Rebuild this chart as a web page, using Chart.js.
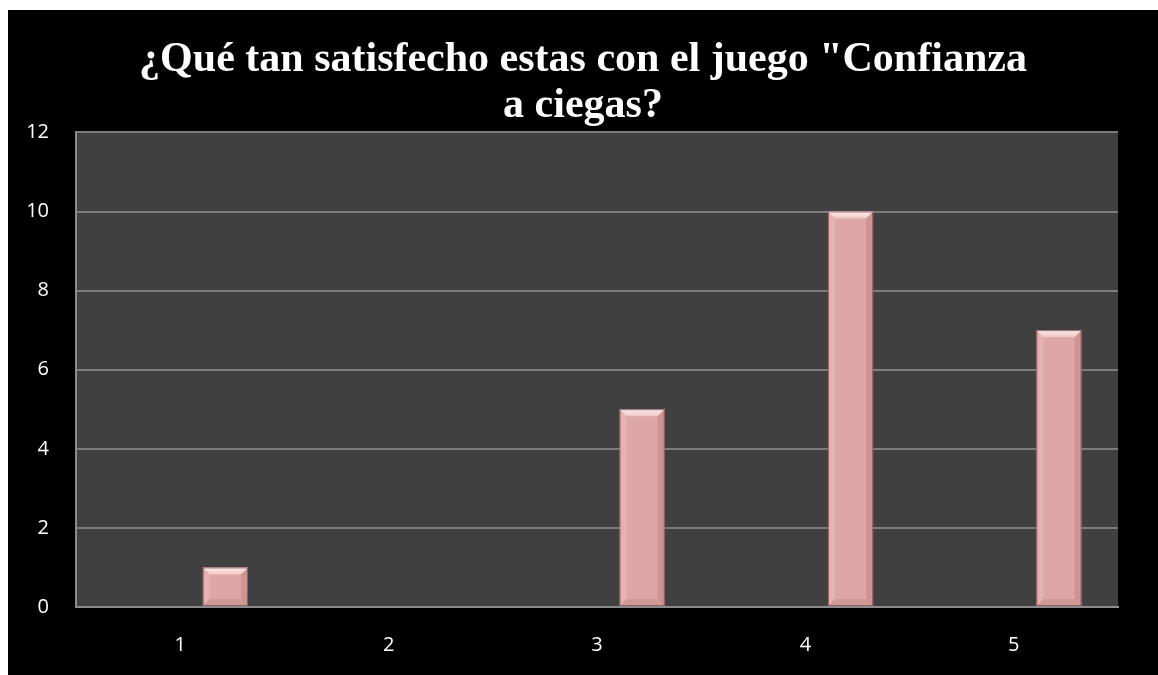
<!DOCTYPE html>
<html>
<head>
<meta charset="utf-8">
<script src="https://cdn.jsdelivr.net/npm/chart.js@4.4.1/dist/chart.umd.min.js"></script>
<style>
  html, body { margin: 0; padding: 0; background: #ffffff; }
  #wrap { position: absolute; left: 8px; top: 10px; width: 1150px; height: 665px; background: #000000; }
</style>
</head>
<body>
<div id="wrap"><canvas id="satChart"></canvas></div>
<script>
// data
const categories = ["1", "2", "3", "4", "5"];
const emptySeriesA = [null, null, null, null, null];
const emptySeriesB = [null, null, null, null, null];
const responses = [1, 0, 5, 10, 7];
const yTicks = [0, 2, 4, 6, 8, 10, 12];

const titleLines = ['¿Qué tan satisfecho estas con el juego "Confianza', 'a ciegas?'];

// fill the plot area dark grey
const plotBackground = {
    id: 'plotBackground',
    beforeDraw(chart) {
        const { ctx, chartArea } = chart;
        ctx.save();
        ctx.fillStyle = '#404040';
        ctx.fillRect(chartArea.left, chartArea.top, chartArea.right - chartArea.left, chartArea.bottom - chartArea.top);
        ctx.restore();
    }
};

// bevelled look on the bars, like the office chart
const bevelBars = {
    id: 'bevelBars',
    afterDatasetsDraw(chart) {
        const ctx = chart.ctx;
        chart.getDatasetMeta(2).data.forEach(bar => {
            const h = bar.base - bar.y;
            if (!h || h <= 0) return;
            const x0 = bar.x - bar.width / 2, x1 = bar.x + bar.width / 2;
            const y0 = bar.y, y1 = bar.base;
            const b = Math.min(7, h / 2);
            ctx.save();
            // top
            const tg = ctx.createLinearGradient(0, y0, 0, y0 + b);
            tg.addColorStop(0, 'rgba(255,245,245,0.95)');
            tg.addColorStop(1, 'rgba(245,205,205,0.8)');
            ctx.fillStyle = tg;
            ctx.beginPath();
            ctx.moveTo(x0, y0); ctx.lineTo(x1, y0); ctx.lineTo(x1 - b, y0 + b); ctx.lineTo(x0 + b, y0 + b);
            ctx.closePath(); ctx.fill();
            // left
            ctx.fillStyle = 'rgba(255,225,225,0.2)';
            ctx.beginPath();
            ctx.moveTo(x0, y0); ctx.lineTo(x0 + b, y0 + b); ctx.lineTo(x0 + b, y1 - b); ctx.lineTo(x0, y1);
            ctx.closePath(); ctx.fill();
            // right
            ctx.fillStyle = 'rgba(140,80,80,0.2)';
            ctx.beginPath();
            ctx.moveTo(x1, y0); ctx.lineTo(x1 - b, y0 + b); ctx.lineTo(x1 - b, y1 - b); ctx.lineTo(x1, y1);
            ctx.closePath(); ctx.fill();
            // bottom
            ctx.fillStyle = 'rgba(140,80,80,0.15)';
            ctx.beginPath();
            ctx.moveTo(x0, y1); ctx.lineTo(x1, y1); ctx.lineTo(x1 - b, y1 - b); ctx.lineTo(x0 + b, y1 - b);
            ctx.closePath(); ctx.fill();
            ctx.strokeStyle = 'rgba(130,80,80,0.8)';
            ctx.lineWidth = 1;
            ctx.strokeRect(x0 + 0.5, y0 + 0.5, bar.width - 1, h - 1);
            ctx.restore();
        });
    }
};

const tickFont = { family: '"Open Sans", Lato, sans-serif', size: 20 };

const ctx = document.getElementById('satChart').getContext('2d');
const satChart = new Chart(ctx, {
    type: 'bar',
    data: {
        labels: categories,
        datasets: [
            { label: 'A', data: emptySeriesA, backgroundColor: 'transparent' },
            { label: 'B', data: emptySeriesB, backgroundColor: 'transparent' },
            {
                label: 'Respuestas',
                data: responses,
                backgroundColor: '#dfa6a6',
                borderWidth: 0
            }
        ]
    },
    options: {
        responsive: true,
        maintainAspectRatio: false,
        animation: false,
        categoryPercentage: 0.65,
        barPercentage: 1,
        layout: { padding: 0 },
        plugins: {
            legend: { display: false },
            tooltip: { enabled: false },
            title: {
                display: true,
                text: titleLines,
                color: '#ffffff',
                font: { family: '"Liberation Serif", "Times New Roman", serif', size: 42, weight: 'bold', lineHeight: 1.1 },
                padding: { top: 27, bottom: 3 }
            }
        },
        scales: {
            x: {
                grid: { display: false, drawTicks: false },
                border: { display: true, color: '#8c8c8c', width: 2 },
                ticks: { color: '#ffffff', font: tickFont, padding: 26 },
                afterFit(scale) { scale.height = 68; }
            },
            y: {
                min: 0,
                max: 12,
                afterBuildTicks(scale) { scale.ticks = yTicks.map(v => ({ value: v })); },
                grid: { color: '#7c7c7c', lineWidth: 2, drawTicks: false },
                border: { display: true, color: '#8c8c8c', width: 2 },
                ticks: { color: '#ffffff', font: tickFont, padding: 27 },
                afterFit(scale) { scale.width = 68; }
            },
            // empty right-hand margin so the title stays centred on the whole chart
            yRight: {
                position: 'right',
                grid: { display: false, drawTicks: false },
                border: { display: false },
                ticks: { display: false },
                afterFit(scale) { scale.width = 40; }
            }
        }
    },
    plugins: [plotBackground, bevelBars]
});
</script>
</body>
</html>
